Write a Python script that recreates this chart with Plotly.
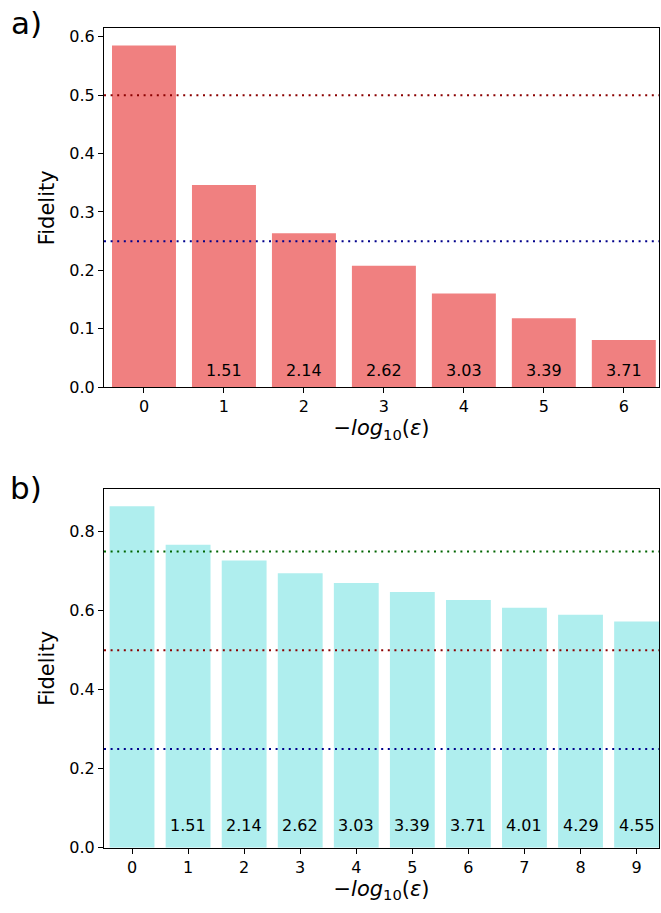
import plotly.graph_objects as go

# Panel a)
cats_a = [0, 1, 2, 3, 4, 5, 6]
fid_a = [0.585, 0.346, 0.2635, 0.208, 0.1605, 0.118, 0.081]
lab_a = ["", "1.51", "2.14", "2.62", "3.03", "3.39", "3.71"]
hlines_a = [(0.5, "#8B0000"), (0.25, "#00008B")]

# Panel b)
cats_b = [0, 1, 2, 3, 4, 5, 6, 7, 8, 9]
fid_b = [0.865, 0.7675, 0.7275, 0.695, 0.67, 0.6475, 0.6275, 0.6075, 0.59, 0.5725]
lab_b = ["", "1.51", "2.14", "2.62", "3.03", "3.39", "3.71", "4.01", "4.29", "4.55"]
hlines_b = [(0.75, "#006400"), (0.5, "#8B0000"), (0.25, "#00008B")]

W, H = 661, 913
FONT = "DejaVu Sans"


def px(xp):
    return xp / W


def py(yp):
    return 1 - yp / H


fig = go.Figure()
fig.add_trace(go.Bar(x=cats_a, y=fid_a, marker=dict(color="#F08080", line=dict(width=0)),
                     xaxis="x", yaxis="y", showlegend=False))
fig.add_trace(go.Bar(x=cats_b, y=fid_b, marker=dict(color="#AFEEEE", line=dict(width=0)),
                     xaxis="x2", yaxis="y2", showlegend=False))

xdom = [px(104), px(659)]
ydom_a = [py(391), py(27.7)]
ydom_b = [py(857), py(494)]

axis_common = dict(showline=True, linecolor="black", linewidth=1, mirror=True,
                   ticks="outside", ticklen=5, tickwidth=1, tickcolor="black",
                   showgrid=False, zeroline=False,
                   tickfont=dict(family=FONT, size=16, color="black"))

xtitle = "\u2212<i>log</i><sub>10</sub>(<i>\u03b5</i>)"
tfont = dict(family=FONT, size=21, color="black")

fig.update_layout(
    width=W, height=H, margin=dict(l=0, r=0, t=0, b=0),
    paper_bgcolor="white", plot_bgcolor="white", bargap=0.2,
    xaxis=dict(domain=xdom, anchor="y", range=[-0.5, cats_a[-1] + 0.44],
               tickmode="array", tickvals=cats_a, ticktext=[str(c) for c in cats_a],
               title=dict(text=xtitle, font=tfont, standoff=4),
               **axis_common),
    yaxis=dict(domain=ydom_a, anchor="x", range=[0, max(fid_a) * 1.05],
               tickmode="array", tickvals=[0, 0.1, 0.2, 0.3, 0.4, 0.5, 0.6],
               ticktext=["0.0", "0.1", "0.2", "0.3", "0.4", "0.5", "0.6"],
               title=dict(text="Fidelity", font=tfont, standoff=8),
               **axis_common),
    xaxis2=dict(domain=xdom, anchor="y2", range=[-0.5, cats_b[-1] + 0.4],
                tickmode="array", tickvals=cats_b, ticktext=[str(c) for c in cats_b],
                title=dict(text=xtitle, font=tfont, standoff=4),
                **axis_common),
    yaxis2=dict(domain=ydom_b, anchor="x2", range=[0, max(fid_b) * 1.05],
                tickmode="array", tickvals=[0, 0.2, 0.4, 0.6, 0.8],
                ticktext=["0.0", "0.2", "0.4", "0.6", "0.8"],
                title=dict(text="Fidelity", font=tfont, standoff=8),
                **axis_common),
)

dash = "2px,4.6px"
for y, c in hlines_a:
    fig.add_shape(type="line", xref="x domain", yref="y", x0=0, x1=1, y0=y, y1=y,
                  line=dict(color=c, width=2, dash=dash), layer="above")
for y, c in hlines_b:
    fig.add_shape(type="line", xref="x2 domain", yref="y2", x0=0, x1=1, y0=y, y1=y,
                  line=dict(color=c, width=2, dash=dash), layer="above")

lfont = dict(family=FONT, size=16, color="black")
for x, t in zip(cats_a, lab_a):
    if t:
        fig.add_annotation(x=x, y=0.029, xref="x", yref="y", text=t, showarrow=False,
                           font=lfont, yanchor="middle")
for x, t in zip(cats_b, lab_b):
    if t:
        fig.add_annotation(x=x, y=0.057, xref="x2", yref="y2", text=t, showarrow=False,
                           font=lfont, yanchor="middle")

fig.add_annotation(text="a)", xref="paper", yref="paper", x=px(9), y=py(22),
                   xanchor="left", yanchor="middle", showarrow=False,
                   font=dict(family=FONT, size=31, color="black"))
fig.add_annotation(text="b)", xref="paper", yref="paper", x=px(8), y=py(493),
                   xanchor="left", yanchor="middle", showarrow=False,
                   font=dict(family=FONT, size=31, color="black"))

fig.write_html("out.html", config={"displayModeBar": False},
               post_script="document.body.style.margin='0';document.body.style.padding='0';"
                           "document.documentElement.style.overflow='hidden';")
